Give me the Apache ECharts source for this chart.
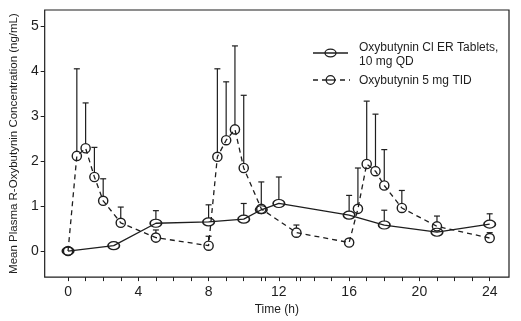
<!DOCTYPE html>
<html>
<head>
<meta charset="utf-8">
<script src="https://cdn.jsdelivr.net/npm/echarts@6/dist/echarts.min.js"></script>
<style>
  html, body { margin: 0; padding: 0; background: #fff; }
  #chart { width: 521px; height: 321px; }
</style>
</head>
<body>
<div id="chart"></div>
<script>
// Once-daily ER tablet: sampling times (h), mean concentration, mean + SD
const erHours = [0, 2.6, 5, 8, 10, 11, 12, 16, 18, 21, 24];
const erMean  = [0, 0.12, 0.62, 0.65, 0.71, 0.92, 1.06, 0.80, 0.58, 0.42, 0.60];
const erUpper = [null, null, 0.90, 1.03, 1.06, null, 1.65, 1.24, 0.91, null, 0.83];

// Immediate release 5 mg three times daily
const tidHours = [0, 0.5, 1, 1.5, 2, 3, 5, 8, 8.5, 9, 9.5, 10, 11, 13, 16, 16.5, 17, 17.5, 18, 19, 21, 24];
const tidMean  = [0, 2.12, 2.29, 1.65, 1.12, 0.63, 0.30, 0.12, 2.10, 2.47, 2.71, 1.85, 0.94, 0.41, 0.19, 0.94, 1.94, 1.78, 1.46, 0.96, 0.55, 0.29];
const tidUpper = [null, 4.06, 3.30, 2.31, 1.61, 0.98, 0.47, 0.33, 4.06, 3.77, 4.57, 3.47, 1.54, 0.58, null, 1.85, 3.34, 3.05, 2.26, 1.35, 0.78, 0.41];

// Axis ticks and labels
const xLabelValues = [0, 4, 8, 12, 16, 20, 24];
const xTickValues = [0, 1, 2, 3, 4, 5, 6, 7, 8, 9, 10, 11, 11.2, 12, 13, 13.2, 14, 15, 16, 17, 18, 19, 20, 21, 22, 23, 24];
const yTickValues = [0, 1, 2, 3, 4, 5];

const seriesNames = ['Oxybutynin Cl ER Tablets,\n10 mg QD', 'Oxybutynin 5 mg TID'];

const INK = '#1e1e1e';
const FONT = "'Liberation Sans', Arial, sans-serif";

function pairs(xs, ys) { return xs.map((x, i) => [x, ys[i]]); }
function bars(xs, ys, tops) {
  const out = [];
  xs.forEach((x, i) => { if (tops[i] != null) out.push([x, ys[i], tops[i]]); });
  return out;
}

// Upper error whisker with a short cap
function whisker(offset) {
  return function (params, api) {
    const x = api.value(0), v = api.value(1), t = api.value(2);
    const p = api.coord([x, v]);
    const q = api.coord([x, t]);
    return {
      type: 'group',
      children: [
        { type: 'line', shape: { x1: p[0], y1: p[1] - offset, x2: p[0], y2: q[1] },
          style: { stroke: INK, lineWidth: 1.2 } },
        { type: 'line', shape: { x1: p[0] - 3, y1: q[1], x2: p[0] + 3, y2: q[1] },
          style: { stroke: INK, lineWidth: 1.2 } }
      ]
    };
  };
}

const chart = echarts.init(document.getElementById('chart'), null, { renderer: 'canvas' });

chart.setOption({
  animation: false,
  backgroundColor: '#fff',
  grid: {
    left: 43, right: 12, top: 10, bottom: 42,
    show: true, borderColor: INK, borderWidth: 1.2, backgroundColor: 'transparent'
  },
  xAxis: {
    type: 'value', min: -1.33, max: 25.1,
    name: 'Time (h)', nameLocation: 'middle', nameGap: 23,
    nameTextStyle: { fontFamily: FONT, fontSize: 12, color: INK },
    axisLine: { show: false, onZero: false },
    splitLine: { show: false },
    axisTick: { show: true, length: 4, inside: false, customValues: xTickValues,
                lineStyle: { color: INK, width: 1 } },
    axisLabel: { customValues: xLabelValues, margin: 8,
                 fontFamily: FONT, fontSize: 14, color: INK }
  },
  yAxis: {
    type: 'value', min: -0.58, max: 5.37,
    name: 'Mean Plasma R-Oxybutynin Concentration (ng/mL)',
    nameLocation: 'middle', nameRotate: 90, nameGap: 21,
    nameTextStyle: { fontFamily: FONT, fontSize: 11.5, color: INK },
    axisLine: { show: false, onZero: false },
    splitLine: { show: false },
    axisTick: { show: true, length: 4, inside: false, customValues: yTickValues,
                lineStyle: { color: INK, width: 1 } },
    axisLabel: { customValues: yTickValues, margin: 6,
                 fontFamily: FONT, fontSize: 14, color: INK }
  },
  graphic: [
    // legend: ER tablets
    { type: 'line', shape: { x1: 313, y1: 53, x2: 348, y2: 53 },
      style: { stroke: INK, lineWidth: 1.3 } },
    { type: 'ellipse', shape: { cx: 330.5, cy: 53, rx: 5.5, ry: 3.8 },
      style: { fill: 'transparent', stroke: INK, lineWidth: 1.3 } },
    { type: 'text', left: 359, top: 41,
      style: { text: seriesNames[0], font: '12px ' + FONT, fill: INK, lineHeight: 14 } },
    // legend: TID
    { type: 'line', shape: { x1: 313, y1: 80, x2: 350, y2: 80 },
      style: { stroke: INK, lineWidth: 1.3, lineDash: [5, 4] } },
    { type: 'circle', shape: { cx: 330.5, cy: 80, r: 4.3 },
      style: { fill: '#fff', stroke: INK, lineWidth: 1.3 } },
    { type: 'line', shape: { x1: 326.5, y1: 80, x2: 334.5, y2: 80 },
      style: { stroke: INK, lineWidth: 1.3 } },
    { type: 'text', left: 359, top: 75,
      style: { text: seriesNames[1], font: '12px ' + FONT, fill: INK } }
  ],
  series: [
    {
      name: 'erBars', type: 'custom', renderItem: whisker(3.8),
      data: bars(erHours, erMean, erUpper), z: 1, silent: true
    },
    {
      name: 'tidBars', type: 'custom', renderItem: whisker(4.6),
      data: bars(tidHours, tidMean, tidUpper), z: 1, silent: true
    },
    {
      name: seriesNames[0], type: 'line', data: pairs(erHours, erMean),
      symbol: 'circle', symbolSize: [11.5, 8], z: 3,
      lineStyle: { color: INK, width: 1.3 },
      itemStyle: { color: 'rgba(255,255,255,0)', borderColor: INK, borderWidth: 1.4 }
    },
    {
      name: seriesNames[1], type: 'line', data: pairs(tidHours, tidMean),
      symbol: 'circle', symbolSize: 9.2, z: 3,
      lineStyle: { color: INK, width: 1.3, type: [5, 4] },
      itemStyle: { color: 'rgba(255,255,255,0)', borderColor: INK, borderWidth: 1.4 }
    }
  ]
});
</script>
</body>
</html>
